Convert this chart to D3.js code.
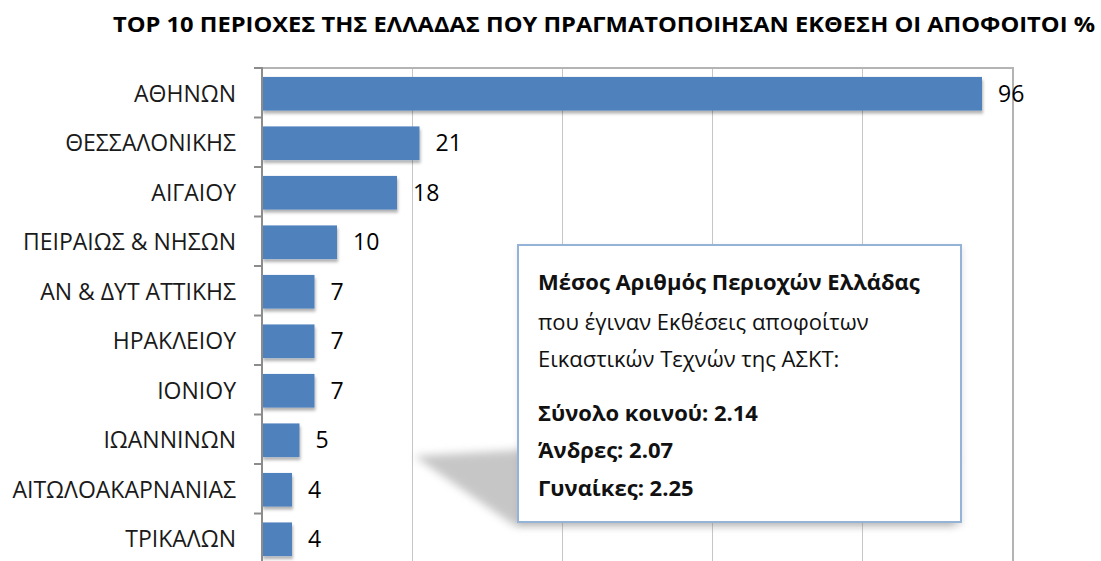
<!DOCTYPE html>
<html>
<head>
<meta charset="utf-8">
<script src="https://cdn.jsdelivr.net/npm/d3@7"></script>
<style>
  body { margin: 0; background: #fff; }
  svg { display: block; font-family: "Open Sans", "Noto Sans", sans-serif; }
</style>
</head>
<body>
<svg id="chart" width="1101" height="561" viewBox="0 0 1101 561"></svg>
<script>
const chartTitle = "TOP 10 ΠΕΡΙΟΧΕΣ ΤΗΣ ΕΛΛΑΔΑΣ ΠΟΥ ΠΡΑΓΜΑΤΟΠΟΙΗΣΑΝ ΕΚΘΕΣΗ ΟΙ ΑΠΟΦΟΙΤΟΙ %"
const categories = ["ΑΘΗΝΩΝ", "ΘΕΣΣΑΛΟΝΙΚΗΣ", "ΑΙΓΑΙΟΥ", "ΠΕΙΡΑΙΩΣ & ΝΗΣΩΝ", "ΑΝ & ΔΥΤ ΑΤΤΙΚΗΣ",
    "ΗΡΑΚΛΕΙΟΥ", "ΙΟΝΙΟΥ", "ΙΩΑΝΝΙΝΩΝ", "ΑΙΤΩΛΟΑΚΑΡΝΑΝΙΑΣ", "ΤΡΙΚΑΛΩΝ"]
const values = [96, 21, 18, 10, 7, 7, 7, 5, 4, 4]
const xTicks = [0, 20, 40, 60, 80, 100]
const noteLines = ["Μέσος Αριθμός Περιοχών Ελλάδας", "που έγιναν Εκθέσεις αποφοίτων",
    "Εικαστικών Τεχνών της ΑΣΚΤ:", "Σύνολο κοινού: 2.14", "Άνδρες: 2.07", "Γυναίκες: 2.25"]
const noteBold = [true, false, false, true, true, true]

const svg = d3.select("#chart")
const data = categories.map((c, i) => ({name: c, value: values[i]}))

const plot = {left: 262, right: 1012, top: 68, bottom: 565}

const x = d3.scaleLinear()
    .domain([0, 100])
    .range([plot.left, plot.right])
const y = d3.scaleBand()
    .domain(categories)
    .range([plot.top, plot.bottom])
    .paddingInner(0.32)
    .paddingOuter(0.18)
const step = y.step()

const defs = svg.append("defs")
defs.append("filter").attr("id", "barShadow")
    .attr("x", "-10%").attr("y", "-20%").attr("width", "130%").attr("height", "160%")
    .append("feDropShadow")
    .attr("dx", 1).attr("dy", 3).attr("stdDeviation", 1.8)
    .attr("flood-color", "#000").attr("flood-opacity", 0.3)
defs.append("filter").attr("id", "blur")
    .attr("x", "-20%").attr("y", "-20%").attr("width", "140%").attr("height", "140%")
    .append("feGaussianBlur").attr("stdDeviation", 4)
defs.append("filter").attr("id", "boxShadow")
    .append("feDropShadow")
    .attr("dx", 1).attr("dy", 3).attr("stdDeviation", 3)
    .attr("flood-color", "#000").attr("flood-opacity", 0.1)

// title
svg.append("text")
    .attr("x", 113)
    .attr("y", 32)
    .attr("textLength", 982)
    .attr("lengthAdjust", "spacingAndGlyphs")
    .style("font-size", "21px")
    .style("font-weight", "bold")
    .text(chartTitle)

// gridlines
svg.append("g")
    .selectAll("line")
    .data(xTicks.slice(1, -1))
    .enter()
    .append("line")
    .attr("x1", d => x(d) + 0.5).attr("x2", d => x(d) + 0.5)
    .attr("y1", plot.top).attr("y2", 561)
    .attr("stroke", "#c6c6c6")
    .attr("stroke-width", 1)

// plot border (top + right)
svg.append("path")
    .attr("d", `M${plot.left},${plot.top}H${x(100) + 1}V561`)
    .attr("fill", "none")
    .attr("stroke", "#b4b4b4")
    .attr("stroke-width", 2)

// bars
svg.append("g")
    .selectAll("rect")
    .data(data)
    .enter()
    .append("rect")
    .attr("x", x(0))
    .attr("y", d => y(d.name))
    .attr("width", d => x(d.value) - x(0))
    .attr("height", y.bandwidth())
    .attr("fill", "#4f81bd")
    .attr("filter", "url(#barShadow)")

// value labels
svg.append("g")
    .selectAll("text")
    .data(data)
    .enter()
    .append("text")
    .attr("x", d => x(d.value) + 16)
    .attr("y", d => y(d.name) + y.bandwidth() / 2 + 8)
    .style("font-size", "23px")
    .text(d => d.value)

// category axis
const yAxis = svg.append("g")
yAxis.append("line")
    .attr("x1", plot.left).attr("x2", plot.left)
    .attr("y1", plot.top - 1).attr("y2", 561)
    .attr("stroke", "#8c8c8c").attr("stroke-width", 2)
yAxis.selectAll(".tick")
    .data(d3.range(categories.length + 1))
    .enter()
    .append("line")
    .attr("x1", plot.left - 8).attr("x2", plot.left)
    .attr("y1", i => plot.top + i * step)
    .attr("y2", i => plot.top + i * step)
    .attr("stroke", "#8c8c8c").attr("stroke-width", 2)
yAxis.selectAll("text")
    .data(categories)
    .enter()
    .append("text")
    .attr("x", 236)
    .attr("y", d => y(d) + y.bandwidth() / 2 + 8)
    .attr("text-anchor", "end")
    .style("font-size", "23px")
    .style("fill", "#1a1a1a")
    .text(d => d)

// note box with perspective shadow
const note = svg.append("g")
note.append("path")
    .attr("d", "M414,456 L520,450 L955,450 L955,526 L515,526 Z")
    .attr("fill", "#999")
    .attr("opacity", 0.55)
    .attr("filter", "url(#blur)")
note.append("rect")
    .attr("x", 518).attr("y", 245)
    .attr("width", 443).attr("height", 277)
    .attr("fill", "#fff")
    .attr("stroke", "#95b3d7")
    .attr("stroke-width", 2)
    .attr("filter", "url(#boxShadow)")

const lineY = [290, 330, 367, 421, 458, 496]
note.selectAll("text")
    .data(noteLines)
    .enter()
    .append("text")
    .attr("x", 538)
    .attr("y", (d, i) => lineY[i])
    .style("font-size", "22px")
    .style("font-weight", (d, i) => noteBold[i] ? "bold" : "normal")
    .style("fill", "#111")
    .text(d => d)
</script>
</body>
</html>
